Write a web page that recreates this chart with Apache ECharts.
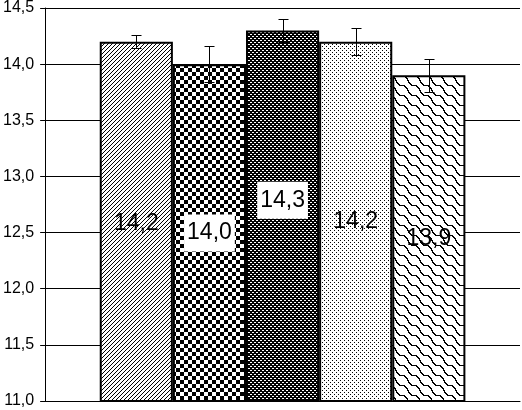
<!DOCTYPE html>
<html>
<head>
<meta charset="utf-8">
<script src="https://cdn.jsdelivr.net/npm/echarts@6/dist/echarts.min.js"></script>
<style>html,body{margin:0;padding:0;background:#fff;}#c{width:522px;height:410px;}</style>
</head>
<body>
<div id="c"></div>
<script>
const categories = [''];
const seriesNames = ['S1', 'S2', 'S3', 'S4', 'S5'];
const values = [14.2, 14.0, 14.3, 14.2, 13.9];
const errors = [0.06, 0.16, 0.10, 0.12, 0.15];
const yMin = 11.0, yMax = 14.5, yStep = 0.5;

function tile(w, h, draw) {
  const c = document.createElement('canvas');
  c.width = w; c.height = h;
  const g = c.getContext('2d');
  g.fillStyle = '#fff'; g.fillRect(0, 0, w, h);
  g.fillStyle = '#000';
  draw(g, w, h);
  return { image: c, repeat: 'repeat' };
}
const patterns = [
  tile(4, 4, (g) => { for (let i = 0; i < 4; i++) g.fillRect(i, 3 - i, 1, 1); }),
  tile(8, 8, (g) => { g.fillRect(0, 0, 4, 4); g.fillRect(4, 4, 4, 4); }),
  tile(4, 4, (g) => { g.fillRect(0, 0, 4, 4); g.fillStyle = '#fff'; g.fillRect(0, 0, 2, 1); g.fillRect(2, 2, 2, 1); }),
  tile(4, 4, (g) => { g.fillRect(0, 0, 1, 1); g.fillRect(2, 2, 1, 1); }),
  tile(12, 10, (g) => {
    for (let s = 0; s <= 240; s++) {
      const x = s / 20;
      const y = x * 10 / 12 + 1.8 * Math.sin(2 * Math.PI * x / 12);
      const px = Math.floor(x) % 12;
      const py = ((Math.round(y) % 10) + 10) % 10;
      g.fillRect(px, py, 1, 1);
    }
  })
];

const fmt = (v) => Number(v).toFixed(1).replace('.', ',');
const labelBg = [null, '#fff', '#fff', null, null];
const labelOffset = [[0, 2], [0, 0], [0, -16], [0, 0], [0, 0]];
const gapRatio = 0.23;

const barSeries = seriesNames.map((name, i) => ({
  name: name,
  type: 'bar',
  data: [values[i]],
  barGap: '0%',
  barCategoryGap: (gapRatio * 100) + '%',
  itemStyle: { color: patterns[i], borderColor: '#000', borderWidth: 2 },
  label: {
    show: true,
    position: 'inside',
    offset: labelOffset[i],
    color: '#000',
    fontFamily: 'Liberation Sans, Arial, sans-serif',
    fontSize: 23,
    formatter: (p) => fmt(p.value),
    backgroundColor: labelBg[i] || 'transparent',
    padding: labelBg[i] ? [7, 3] : 0
  },
  z: 2
}));

const errSeries = {
  type: 'custom',
  z: 5,
  data: values.map((v, i) => [i, v, errors[i]]),
  encode: { y: 1 },
  renderItem: function (params, api) {
    const i = api.value(0);
    const v = api.value(1);
    const e = api.value(2);
    const band = api.size([1, 0])[0];
    const bw = band * (1 - gapRatio) / values.length;
    const center = api.coord([0, v])[0];
    const x = Math.round(center + (i - (values.length - 1) / 2) * bw) + 0.5;
    const yt = Math.round(api.coord([0, v + e])[1]) + 0.5;
    const yb = Math.round(api.coord([0, v - e])[1]) + 0.5;
    const cap = 5;
    const st = { stroke: '#000', lineWidth: 1 };
    return {
      type: 'group',
      children: [
        { type: 'line', shape: { x1: x, y1: yt, x2: x, y2: yb }, style: st },
        { type: 'line', shape: { x1: x - cap, y1: yt, x2: x + cap, y2: yt }, style: st },
        { type: 'line', shape: { x1: x - cap, y1: yb, x2: x + cap, y2: yb }, style: st }
      ]
    };
  }
};

const chart = echarts.init(document.getElementById('c'), null, { renderer: 'canvas' });
chart.setOption({
  animation: false,
  backgroundColor: '#fff',
  grid: { left: 44, right: 2, top: 7, bottom: 9, containLabel: false },
  xAxis: {
    type: 'category',
    data: categories,
    axisLine: { lineStyle: { color: '#000', width: 1 } },
    axisTick: { show: false },
    axisLabel: { show: false },
    splitLine: { show: false }
  },
  yAxis: {
    type: 'value',
    min: yMin, max: yMax, interval: yStep,
    axisLine: { show: true, lineStyle: { color: '#000', width: 1 } },
    axisTick: { show: true, length: 5, lineStyle: { color: '#000' } },
    axisLabel: { color: '#000', fontSize: 16, fontFamily: 'Liberation Sans, Arial, sans-serif', margin: 11, formatter: fmt },
    splitLine: { show: true, lineStyle: { color: '#000', width: 1 } }
  },
  series: barSeries.concat([errSeries])
});
</script>
</body>
</html>
